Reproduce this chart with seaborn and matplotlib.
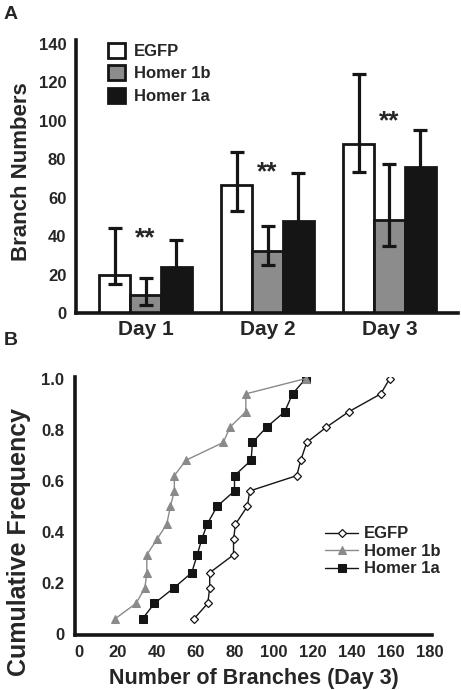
import matplotlib

matplotlib.use("Agg")
import matplotlib.pyplot as plt
import pandas as pd
import seaborn as sns

# panel A: branch numbers per day (mean, lower / upper error bar ends)
days = ["Day 1", "Day 2", "Day 3"]
groups = ["EGFP", "Homer 1b", "Homer 1a"]
means = {
    "EGFP": [20, 66.6, 88.2],
    "Homer 1b": [9.6, 32.2, 48.7],
    "Homer 1a": [23.8, 47.8, 76.0],
}
err_low = {
    "EGFP": [15.1, 52.9, 73.6],
    "Homer 1b": [4.3, 25.2, 35.1],
    "Homer 1a": [9.7, 22.9, 56.7],
}
err_high = {
    "EGFP": [44.3, 83.8, 124.3],
    "Homer 1b": [18.3, 45.2, 77.7],
    "Homer 1a": [37.9, 72.7, 95.3],
}
star_y = [39, 73, 100]
bar_colors = {"EGFP": "#ffffff", "Homer 1b": "#8c8c8c", "Homer 1a": "#151515"}

# panel B: cumulative frequency of branch numbers on day 3
cum_freq = [0.06, 0.12, 0.18, 0.24, 0.31, 0.37, 0.43, 0.50,
            0.56, 0.62, 0.68, 0.75, 0.81, 0.87, 0.94, 1.0]
branches = {
    "EGFP": [59.2, 66.2, 67.2, 67.2, 79.4, 79.4, 80.4, 86.5,
             87.7, 111.8, 113.8, 116.9, 127.0, 138.4, 154.8, 159.4],
    "Homer 1b": [18.8, 29.5, 34.0, 35.0, 35.0, 40.1, 45.2, 47.1,
                 49.1, 49.1, 55.0, 74.2, 77.6, 85.7, 85.7, 116.4],
    "Homer 1a": [32.8, 38.9, 48.8, 58.0, 60.8, 63.1, 65.9, 71.0,
                 79.9, 79.9, 88.4, 89.1, 96.4, 105.6, 109.6, 116.4],
}

sns.set_style("white")
plt.rcParams["font.family"] = ["Liberation Sans", "DejaVu Sans"]
plt.rcParams["font.weight"] = "bold"

fig = plt.figure(figsize=(4.61, 6.9), dpi=100)

# ---- panel A
ax = fig.add_axes([0.165, 0.546, 0.828, 0.396])
bars = pd.DataFrame(
    [(d, g, means[g][i]) for g in groups for i, d in enumerate(days)],
    columns=["day", "group", "value"],
)
sns.barplot(data=bars, x="day", y="value", hue="group", order=days,
            hue_order=groups, palette=bar_colors, errorbar=None,
            width=0.76, edgecolor="#151515", linewidth=2.0, ax=ax)
for g, cont in zip(groups, ax.containers):
    xs = [p.get_x() + p.get_width() / 2 for p in cont.patches]
    lo = [m - l for m, l in zip(means[g], err_low[g])]
    hi = [h - m for m, h in zip(means[g], err_high[g])]
    ax.errorbar(xs, means[g], yerr=[lo, hi], fmt="none", ecolor="#151515",
                elinewidth=2.3, capsize=5, capthick=2.3, zorder=5)
for i, y in enumerate(star_y):
    ax.text(i, y, "**", ha="center", va="center", fontsize=19,
            fontweight="bold")
ax.set_xlim(-0.57, 2.56)
ax.set_ylim(0, 142)
ax.set_yticks(range(0, 141, 20))
ax.set_xlabel("")
ax.set_ylabel("Branch Numbers", fontsize=16, fontweight="bold")
ax.yaxis.set_label_coords(-0.115, 0.52)
ax.tick_params(axis="y", length=0, pad=7, labelsize=12)
ax.tick_params(axis="x", length=0, pad=5, labelsize=15)
sns.despine(ax=ax)
for s in ["left", "bottom"]:
    ax.spines[s].set_linewidth(2.6)
    ax.spines[s].set_color("#151515")
ax.legend(loc="upper left", bbox_to_anchor=(0.084, 0.99), frameon=False,
          fontsize=12, handlelength=1.0, handleheight=1.0,
          handletextpad=0.55, labelspacing=0.38, borderpad=0, borderaxespad=0)

# ---- panel B
bx = fig.add_axes([0.163, 0.080, 0.774, 0.374])
styles = {
    "EGFP": dict(color="#151515", marker="D", markersize=4.2,
                 markerfacecolor="white", markeredgecolor="#151515",
                 markeredgewidth=0.9, zorder=2),
    "Homer 1b": dict(color="#8a8a8a", marker="^", markersize=6,
                     markerfacecolor="#8a8a8a", markeredgecolor="#8a8a8a",
                     zorder=4),
    "Homer 1a": dict(color="#151515", marker="s", markersize=5.8,
                     markerfacecolor="#151515", markeredgecolor="#151515",
                     zorder=3),
}
for g in groups:
    sns.lineplot(x=branches[g], y=cum_freq, sort=False, estimator=None,
                 linewidth=1.0, label=g, ax=bx, **styles[g])
bx.set_xlim(-1.7, 181)
bx.set_ylim(-0.003, 1.007)
bx.set_xticks(range(0, 181, 20))
bx.set_yticks([0, 0.2, 0.4, 0.6, 0.8, 1.0])
bx.set_yticklabels(["0", "0.2", "0.4", "0.6", "0.8", "1.0"])
bx.tick_params(axis="both", length=0, labelsize=12)
bx.tick_params(axis="x", pad=7)
bx.tick_params(axis="y", pad=8)
bx.set_xlabel("Number of Branches (Day 3)", fontsize=15.5, fontweight="bold",
              labelpad=6)
bx.set_ylabel("Cumulative Frequency", fontsize=18, fontweight="bold")
bx.yaxis.set_label_coords(-0.123, 0.36)
sns.despine(ax=bx)
for s in ["left", "bottom"]:
    bx.spines[s].set_linewidth(2.6)
    bx.spines[s].set_color("#151515")
bx.legend(loc="upper left", bbox_to_anchor=(0.70, 0.42), frameon=False,
          fontsize=12, handlelength=2.0, handletextpad=0.35,
          labelspacing=0.15, borderpad=0, borderaxespad=0)

fig.text(0.008, 1 - 6 / 690, "A", fontsize=14, fontweight="bold", va="top")
fig.text(0.008, 1 - 332 / 690, "B", fontsize=14, fontweight="bold", va="top")

fig.savefig("out.png", dpi=100)
